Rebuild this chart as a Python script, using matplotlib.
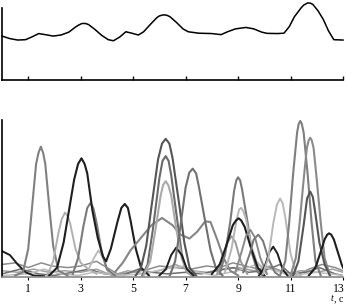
import matplotlib
matplotlib.use('Agg')
import matplotlib.pyplot as plt
from matplotlib.transforms import ScaledTranslation

plt.rcParams['font.family'] = ['Liberation Serif', 'DejaVu Serif']

# Top panel: summary curve
top_t = [0.0, 0.3, 0.6, 0.9, 1.15, 1.4, 1.65, 1.95, 2.25, 2.55, 2.8, 2.93, 3.05, 3.18, 3.3, 3.55,
         3.8, 4.05, 4.25, 4.5, 4.72, 4.95, 5.2, 5.4, 5.65, 5.9, 6.0, 6.15, 6.28, 6.4, 6.65, 6.9,
         7.1, 7.5, 8.0, 8.35, 8.6, 8.9, 9.3, 9.6, 9.9, 10.1, 10.5, 10.75, 10.95, 11.15,
         11.4, 11.5, 11.65, 11.75, 11.85, 12.05, 12.25, 12.45, 12.65, 13.0]
top_v = [0.61, 0.575, 0.555, 0.56, 0.6, 0.645, 0.63, 0.61, 0.625, 0.665, 0.735, 0.765, 0.785, 0.785,
         0.77, 0.70, 0.62, 0.56, 0.545, 0.6, 0.67, 0.65, 0.625, 0.67, 0.77, 0.865, 0.89, 0.905, 0.90,
         0.88, 0.80, 0.71, 0.67, 0.65, 0.645, 0.63, 0.67, 0.71, 0.73, 0.71, 0.665, 0.648, 0.645, 0.65,
         0.74, 0.88, 1.0, 1.04, 1.07, 1.068, 1.05, 0.96, 0.84, 0.68, 0.56, 0.555]

# Bottom panel: individual components (t, value, colour, width)
curves = [
    # low background curves
    ([0, 0.5, 1.0, 1.5, 1.9, 2.5, 3.0, 3.6, 4.0, 4.4, 5.0, 5.6, 6.0, 6.6, 7.2, 7.8, 8.3, 8.8, 9.3,
      9.8, 10.3, 10.8, 11.2, 11.7, 12.2, 12.7, 13.0],
     [8, 9, 6, 9, 7, 6, 7, 10, 6, 2, 3, 5, 7, 6, 5, 7, 6, 9, 7, 5, 6, 3, 1, 5, 8, 6, 4], '#8c8c8c', 1.1),
    ([0, 0.6, 1.2, 1.8, 2.4, 3.0, 3.6, 4.2, 4.8, 5.4, 6.0, 6.6, 7.2, 7.8, 8.4, 9.0, 9.6, 10.2, 10.8,
      11.4, 12.0, 12.6, 13.0],
     [4, 3, 5, 3, 4, 3, 5, 1, 4, 2, 4, 8, 4, 3, 5, 6, 4, 7, 2, 4, 3, 5, 3], '#a0a0a0', 1.1),
    ([0, 0.7, 1.4, 2.0, 2.7, 3.3, 3.9, 4.6, 5.2, 5.7, 6.3, 7.0, 7.6, 8.2, 8.8, 9.4, 10.0, 10.6, 11.0,
      11.6, 12.1, 12.7, 13.0],
     [2, 5, 2, 1, 3, 5, 2, 1, 5, 3, 2, 3, 2, 4, 6, 3, 4, 8, 2, 3, 6, 2, 1], '#6e6e6e', 1.1),
    ([0, 1.0, 1.6, 2.2, 2.9, 3.5, 4.5, 5.3, 6.2, 6.9, 7.5, 8.1, 9.0, 9.7, 10.4, 11.1, 12.0, 13.0],
     [1, 2, 5, 2, 1, 3, 1, 2, 5, 7, 3, 1, 4, 8, 4, 1, 3, 1], '#bdbdbd', 1.1),
    # peaks
    ([0.0, 0.3, 0.6, 0.9, 1.2, 1.6], [16.5, 14, 8, 3, 1, 0.5], '#1e1e1e', 1.4),
    ([0.5, 0.8, 1.0, 1.15, 1.3, 1.39, 1.48, 1.57, 1.65, 1.8, 1.95, 2.15, 2.5],
     [1, 3, 18, 45, 72, 79, 83, 79, 72, 45, 20, 4, 1], '#808080', 1.5),
    ([1.75, 1.95, 2.15, 2.28, 2.4, 2.5, 2.6, 2.8, 3.0, 3.3, 3.6],
     [2, 10, 28, 37, 41, 39, 34, 18, 9, 5, 2], '#b0b0b0', 1.4),
    ([3.3, 3.5, 3.68, 3.85, 4.05], [5, 12, 17, 12, 3], '#b8b8b8', 1.3),
    ([2.7, 2.9, 3.1, 3.25, 3.37, 3.48, 3.6, 3.8, 4.0, 4.3],
     [2, 12, 32, 44, 47, 44, 35, 16, 5, 1], '#7a7a7a', 1.5),
    ([1.8, 2.1, 2.35, 2.55, 2.75, 2.9, 3.03, 3.15, 3.25, 3.45, 3.65, 3.85, 3.97, 4.15, 4.4, 4.55,
      4.68, 4.8, 4.9, 5.1, 5.3, 5.6],
     [1, 6, 22, 42, 62, 72, 75.6, 72, 66, 42, 25, 13, 10, 18, 35, 44, 46.5, 44, 36, 18, 6, 1],
     '#1e1e1e', 1.5),
    ([4.3, 4.6, 4.9, 5.3, 5.7, 6.1, 6.5, 6.8, 7.15, 7.45, 7.75, 7.95, 8.2, 8.45, 8.7, 9.0],
     [3, 9, 17, 25, 33, 37.6, 33, 27, 24.5, 29, 35.5, 35, 24, 12, 4, 1], '#858585', 1.5),
    ([5.1, 5.3, 5.5, 5.7, 5.95, 6.1, 6.24, 6.38, 6.5, 6.75, 6.95, 7.15, 7.4],
     [1, 6, 20, 45, 75, 85, 88, 85, 76, 47, 22, 6, 1], '#555555', 1.5),
    ([5.35, 5.55, 5.75, 6.0, 6.12, 6.24, 6.35, 6.45, 6.65, 6.85, 7.05, 7.3],
     [1, 8, 30, 63, 74, 77, 74, 65, 40, 15, 3, 0.5], '#6a6a6a', 1.5),
    ([5.4, 5.65, 5.85, 6.05, 6.14, 6.24, 6.34, 6.45, 6.65, 6.85, 7.05, 7.3],
     [1, 10, 30, 52, 58.5, 61, 58.5, 52, 30, 12, 3, 1], '#aaaaaa', 1.5),
    ([6.0, 6.25, 6.45, 6.64, 6.85, 7.05, 7.3], [1, 5, 14, 18.7, 14, 5, 1], '#1e1e1e', 1.4),
    ([6.4, 6.6, 6.8, 7.0, 7.14, 7.27, 7.4, 7.5, 7.75, 7.95, 8.15, 8.4],
     [1, 10, 32, 57, 66.5, 69, 66, 58, 35, 17, 6, 1], '#707070', 1.5),
    ([8.2, 8.45, 8.6, 8.75, 8.9, 9.1, 9.35], [2, 12, 22, 26, 22, 10, 2], '#999999', 1.4),
    ([8.3, 8.5, 8.7, 8.85, 8.93, 9.0, 9.08, 9.15, 9.35, 9.55, 9.75, 10.0],
     [2, 14, 35, 55, 61.5, 63.5, 61.5, 56, 36, 14, 3, 0.5], '#7a7a7a', 1.5),
    ([8.5, 8.75, 8.95, 9.04, 9.12, 9.2, 9.3, 9.5, 9.7, 9.9, 10.1],
     [3, 18, 37, 43, 44, 42, 37, 20, 10, 6, 2], '#b5b5b5', 1.4),
    ([8.0, 8.3, 8.55, 8.8, 8.92, 9.02, 9.12, 9.25, 9.5, 9.75, 10.0],
     [2, 8, 20, 33, 36, 37.4, 36, 32, 18, 6, 1], '#1e1e1e', 1.5),
    ([8.9, 9.15, 9.3, 9.47, 9.65, 9.85, 10.1], [3, 17, 26, 30, 25, 12, 2], '#8a8a8a', 1.4),
    ([9.2, 9.45, 9.6, 9.77, 9.95, 10.15, 10.4, 10.6], [3, 15, 24, 27, 23, 12, 3, 0.5], '#777777', 1.4),
    ([9.8, 10.0, 10.2, 10.34, 10.5, 10.7, 10.9], [1, 6, 16, 19.3, 15, 5, 0.5], '#1e1e1e', 1.4),
    ([9.95, 10.15, 10.35, 10.48, 10.6, 10.7, 10.8, 11.0, 11.2, 11.4],
     [2, 12, 35, 46, 50, 47, 38, 15, 3, 0.5], '#b8b8b8', 1.4),
    ([10.6, 10.8, 10.95, 11.1, 11.25, 11.31, 11.37, 11.43, 11.5, 11.65, 11.8, 11.95, 12.15],
     [1, 10, 35, 66, 92, 97.5, 99.4, 97.5, 92, 66, 35, 10, 1], '#7f7f7f', 1.5),
    ([11.0, 11.2, 11.35, 11.5, 11.62, 11.69, 11.75, 11.81, 11.88, 12.0, 12.15, 12.3, 12.5],
     [1, 12, 35, 62, 82, 87, 88.7, 87, 82, 62, 35, 12, 1], '#8a8a8a', 1.5),
    ([11.1, 11.3, 11.5, 11.63, 11.75, 11.85, 11.95, 12.1, 12.3, 12.5],
     [1, 10, 33, 50, 54.4, 51, 40, 22, 8, 1], '#555555', 1.5),
    ([11.7, 11.95, 12.15, 12.3, 12.4, 12.47, 12.55, 12.65, 12.8, 12.95, 13.0],
     [1, 6, 16, 24, 27, 27.8, 27, 24, 16, 8, 6], '#1e1e1e', 1.5),
]

ticks = [1, 3, 5, 7, 9, 11, 13]

fig = plt.figure(figsize=(3.46, 3.04), dpi=100)

# top panel
ax1 = fig.add_axes([2/346, 1 - 80/304, 341/346, 72/304])
ax1.plot(top_t, top_v, color='black', lw=1.1, clip_on=False)
ax1.set_xlim(0, 13)
ax1.set_ylim(0, 1)
for s in ['top', 'right']:
    ax1.spines[s].set_visible(False)
ax1.spines['left'].set_linewidth(1.2)
ax1.spines['bottom'].set_linewidth(1.2)
ax1.set_xticks(ticks)
ax1.tick_params(axis='x', direction='in', length=3, width=1, labelbottom=False)
ax1.set_yticks([])

# bottom panel
ax2 = fig.add_axes([2/346, 1 - 277/304, 341/346, 157/304])
for t, v, c, w in curves:
    ax2.plot(t, v, color=c, lw=w)
ax2.set_xlim(0, 13)
ax2.set_ylim(0, 100)
for s in ['top', 'right']:
    ax2.spines[s].set_visible(False)
ax2.spines['left'].set_linewidth(1.2)
ax2.spines['bottom'].set_color('#888888')
ax2.spines['bottom'].set_linewidth(1.2)
ax2.set_xticks(ticks)
ax2.set_xticklabels([str(k) for k in ticks])
ax2.tick_params(axis='x', direction='out', length=2, width=0.8, labelsize=8.5, pad=2.5)
ax2.set_yticks([])
# keep the last label inside the figure
last = ax2.get_xticklabels()[-1]
last.set_transform(last.get_transform() + ScaledTranslation(-4/100, 0, fig.dpi_scale_trans))

fig.text(331/346, 1/304, 't', fontsize=7, style='italic', va='bottom', ha='left')
fig.text(334/346, 1/304, ', c', fontsize=7, va='bottom', ha='left')

fig.savefig('out.png', dpi=100)
